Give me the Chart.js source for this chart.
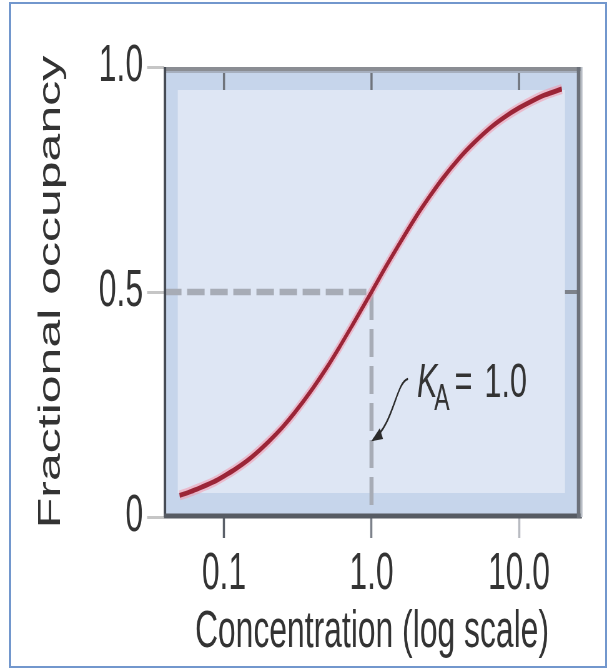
<!DOCTYPE html>
<html><head><meta charset="utf-8">
<script src="https://cdn.jsdelivr.net/npm/chart.js@4/dist/chart.umd.min.js"></script>
<style>
html,body{margin:0;padding:0;background:#fff;overflow:hidden;width:612px;height:669px;}
#wrap{position:absolute;left:0;top:0;width:612px;height:669px;overflow:hidden;}
#c{display:block;transform:scaleX(0.6245);transform-origin:0 0;}
#frame{position:absolute;left:9px;top:2px;width:598px;height:666px;border:2px solid #7297cd;box-sizing:border-box;pointer-events:none;}
</style></head><body>
<div id="wrap"><canvas id="c" width="980" height="669"></canvas></div>
<div id="frame"></div>
<script>
// ---- data ----
const concentration = [0.05, 0.06, 0.07, 0.085, 0.1, 0.12, 0.15, 0.2, 0.25, 0.3, 0.4, 0.5, 0.6, 0.75, 1.0, 1.25, 1.5, 2.0, 2.5, 3.0, 4.0, 5.0, 6.5, 8.0, 10, 12.5, 15, 19.5];
const occupancy     = [0.048, 0.057, 0.066, 0.078, 0.091, 0.107, 0.13, 0.167, 0.2, 0.231, 0.286, 0.333, 0.375, 0.429, 0.5, 0.556, 0.6, 0.667, 0.714, 0.75, 0.8, 0.833, 0.867, 0.889, 0.909, 0.926, 0.938, 0.951];
const xTickValues = [0.1, 1, 10];
const xTickLabels = ['0.1', '1.0', '10.0'];
const yTickValues = [0, 0.5, 1];
const yTickLabels = ['0', '0.5', '1.0'];
const KA = 1.0;
const halfOccupancy = 0.5;
const xRange = [0.0392, 25.9];
const yRange = [0, 1];
const labelAnchor = [2.033, 0.267];
const arrowX = [1.767, 1.465, 1.420, 1.023];
const arrowY = [0.307, 0.300, 0.207, 0.171];

const FAMILY = '"Liberation Sans", Arial, Helvetica, sans-serif';
const TEXT = '#333';
const xTickColors = ['#5b6069', '#7c818a', '#b8bbc1'];

const curve = concentration.map((c, i) => ({x: c, y: occupancy[i]}));
const hGuide = [{x: xRange[0], y: halfOccupancy}, {x: KA, y: halfOccupancy}];
const vGuide = [{x: KA, y: halfOccupancy}, {x: KA, y: yRange[0]}];

function line(ctx, x1, y1, x2, y2, color, w) {
  ctx.beginPath(); ctx.moveTo(x1, y1); ctx.lineTo(x2, y2);
  ctx.strokeStyle = color; ctx.lineWidth = w; ctx.stroke();
}

const framePlugin = {
  id: 'framePlugin',
  beforeDraw(chart) {
    const {ctx, chartArea: a} = chart;
    ctx.save();
    ctx.fillStyle = '#c6d5eb';
    ctx.fillRect(a.left, a.top, a.right - a.left, a.bottom - a.top);
    ctx.fillStyle = '#dee6f4';
    ctx.fillRect(a.left + 22, a.top + 23, a.right - a.left - 46, a.bottom - a.top - 47);
    ctx.restore();
  },
  afterDatasetsDraw(chart) {
    const {ctx, chartArea: a} = chart;
    const xs = chart.scales.x, ys = chart.scales.y;
    ctx.save();
    ctx.lineCap = 'butt';
    xTickValues.forEach(v => {
      const x = xs.getPixelForValue(v);
      line(ctx, x, a.top, x, a.top + 23, '#6f747c', 3.5);
    });
    const yh = ys.getPixelForValue(halfOccupancy);
    line(ctx, a.right - 24, yh, a.right, yh, '#7d828b', 4);
    line(ctx, a.left, a.top + 2, a.right + 3, a.top + 2, '#8a8d93', 4);
    line(ctx, a.left, a.top + 5, a.right, a.top + 5, '#a6afbe', 2);
    line(ctx, a.left + 1.5, a.top, a.left + 1.5, a.bottom, '#454a53', 4);
    line(ctx, a.left, a.bottom - 1, a.right + 3, a.bottom - 1, '#565b63', 5);
    line(ctx, a.right - 2, a.top, a.right - 2, a.bottom + 1, '#6c717a', 6);
    line(ctx, a.right + 2.5, a.top, a.right + 2.5, a.bottom, '#b7bcc4', 3);

    const px = xs.getPixelForValue(labelAnchor[0]);
    const py = ys.getPixelForValue(labelAnchor[1]);
    ctx.fillStyle = TEXT;
    ctx.textBaseline = 'alphabetic';
    ctx.textAlign = 'left';
    ctx.font = 'italic 49px ' + FAMILY;
    ctx.fillText('K', px, py);
    const kw = ctx.measureText('K').width;
    ctx.font = '37px ' + FAMILY;
    ctx.fillText('A', px + kw - 5, py + 13);
    ctx.font = '49px ' + FAMILY;
    ctx.fillText('=', px + 60, py);
    ctx.fillText('1.0', px + 108, py);

    const P = arrowX.map((v, i) => [xs.getPixelForValue(v), ys.getPixelForValue(arrowY[i])]);
    ctx.beginPath();
    ctx.moveTo(P[0][0], P[0][1]);
    ctx.bezierCurveTo(P[1][0], P[1][1], P[2][0], P[2][1], P[3][0], P[3][1]);
    ctx.strokeStyle = '#2b2b2b'; ctx.lineWidth = 2.2; ctx.stroke();
    const dx = P[3][0] - P[2][0], dy = P[3][1] - P[2][1];
    const len = Math.hypot(dx, dy), ux = dx / len, uy = dy / len;
    const L = 15, W = 6;
    ctx.beginPath();
    ctx.moveTo(P[3][0] + ux * 3, P[3][1] + uy * 3);
    ctx.lineTo(P[3][0] - ux * L - uy * W, P[3][1] - uy * L + ux * W);
    ctx.lineTo(P[3][0] - ux * L + uy * W, P[3][1] - uy * L - ux * W);
    ctx.closePath();
    ctx.fillStyle = '#2b2b2b'; ctx.fill();
    ctx.restore();
  }
};

new Chart(document.getElementById('c'), {
  type: 'line',
  data: {
    datasets: [
      {data: curve, borderColor: '#9b2537', borderWidth: 5, pointRadius: 0, cubicInterpolationMode: 'monotone', fill: false},
      {data: curve, borderColor: 'rgba(244,150,172,0.55)', borderWidth: 10, pointRadius: 0, cubicInterpolationMode: 'monotone', fill: false},
      {data: hGuide, borderColor: '#a7acb6', borderWidth: 6.5, borderDash: [28, 9], pointRadius: 0, fill: false},
      {data: vGuide, borderColor: '#a7acb6', borderWidth: 6.5, borderDash: [28, 9], pointRadius: 0, fill: false}
    ]
  },
  options: {
    responsive: false,
    animation: false,
    devicePixelRatio: 1,
    layout: {padding: {top: 67, right: 51.3, bottom: 0, left: 0}},
    plugins: {legend: {display: false}, tooltip: {enabled: false}},
    scales: {
      x: {
        type: 'logarithmic',
        min: xRange[0], max: xRange[1],
        afterBuildTicks: s => { s.ticks = xTickValues.map(v => ({value: v})); },
        afterFit: s => { s.height = 152; },
        ticks: {
          callback: (v, i) => xTickLabels[i],
          font: {family: FAMILY, size: 51}, color: TEXT, padding: 6,
          autoSkip: false, maxRotation: 0, minRotation: 0
        },
        grid: {drawOnChartArea: false, tickLength: 21, tickWidth: 3.5, tickColor: c => xTickColors[c.index] || '#777'},
        border: {display: false},
        title: {display: true, text: 'Concentration (log scale)', font: {family: FAMILY, size: 51}, color: TEXT, padding: {top: 0, bottom: 5}}
      },
      y: {
        type: 'linear',
        min: yRange[0], max: yRange[1],
        afterBuildTicks: s => { s.ticks = yTickValues.map(v => ({value: v})); },
        afterFit: s => { s.width = 262.6; },
        ticks: {
          callback: (v, i) => yTickLabels[i],
          font: {family: FAMILY, size: 51}, color: TEXT, padding: 6.6
        },
        grid: {drawOnChartArea: false, tickLength: 27, tickWidth: 3, tickColor: '#c6c6c6'},
        border: {display: false},
        title: {display: true, text: 'Fractional occupancy', font: {family: FAMILY, size: 50}, color: TEXT, padding: {top: 52, bottom: 0}}
      }
    }
  },
  plugins: [framePlugin]
});
</script>
</body></html>
